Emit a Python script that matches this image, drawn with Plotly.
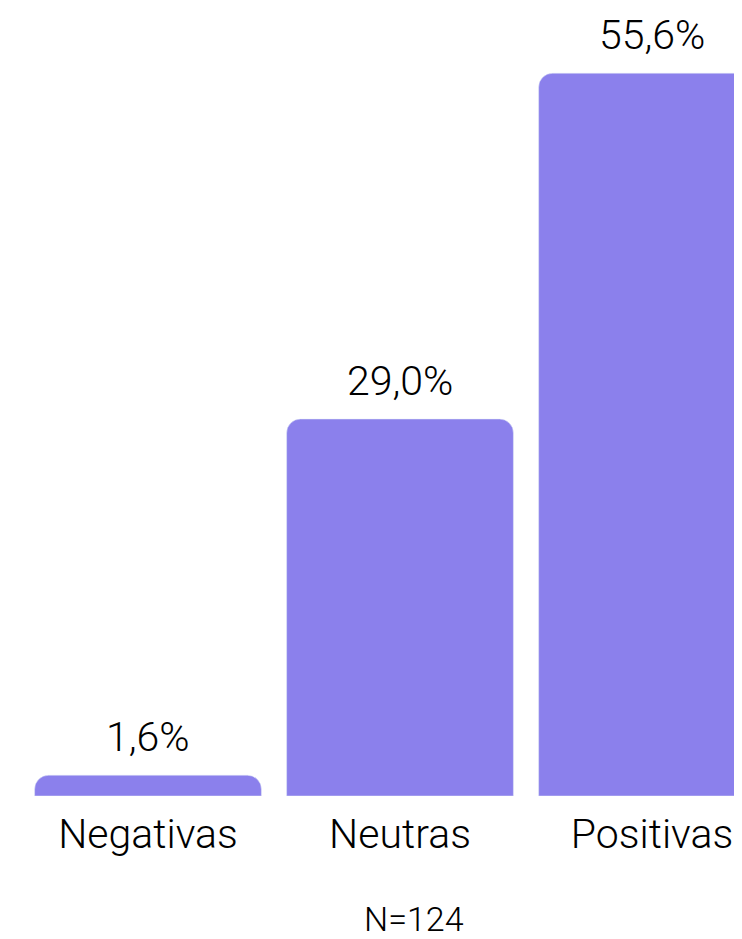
import plotly.graph_objects as go

categorias = ["Negativas", "Neutras", "Positivas"]
porcentajes = [1.6, 29.0, 55.6]
etiquetas = ["1,6%", "29,0%", "55,6%"]
n_total = "N=124"

COLOR = "#8B80EC"
FUENTE = "Roboto, Arial, sans-serif"

fig = go.Figure(
    go.Bar(
        x=categorias,
        y=porcentajes,
        marker=dict(color=COLOR),
        hoverinfo="skip",
    )
)

# etiquetas de valor sobre cada barra (con mas separacion que el texto "outside")
for cat, val, txt in zip(categorias, porcentajes, etiquetas):
    fig.add_annotation(
        x=cat, y=val, text=txt, showarrow=False,
        yanchor="bottom", yshift=12,
        font=dict(size=41, color="black", family=FUENTE, weight=300),
    )

# el ultimo grupo queda cortado en el borde derecho, como en la imagen
fig.update_xaxes(
    range=[-0.5, 2.357],
    showgrid=False, showline=False, zeroline=False,
    tickfont=dict(size=41, color="black", family=FUENTE, weight=300),
    ticklabelstandoff=10,
)
fig.update_yaxes(range=[0, 60], visible=False)

W, H = 734, 931
ML, MT, MB = 14, 8, 143
fig.update_layout(
    width=W, height=H,
    margin=dict(l=ML, r=0, t=MT, b=MB),
    bargap=0.1,
    barcornerradius=14,
    plot_bgcolor="white", paper_bgcolor="white",
    font=dict(family=FUENTE, color="black"),
    showlegend=False,
)

# "N=124" centrado bajo el grafico
pw = W - ML
ph = H - MT - MB
fig.add_annotation(
    text=n_total, showarrow=False,
    xref="paper", yref="paper",
    x=(406 - ML) / pw, y=(H - MB - 911) / ph,
    xanchor="center", yanchor="middle",
    font=dict(size=34, color="black", family=FUENTE, weight=300),
)

fig.write_html("out.html")
